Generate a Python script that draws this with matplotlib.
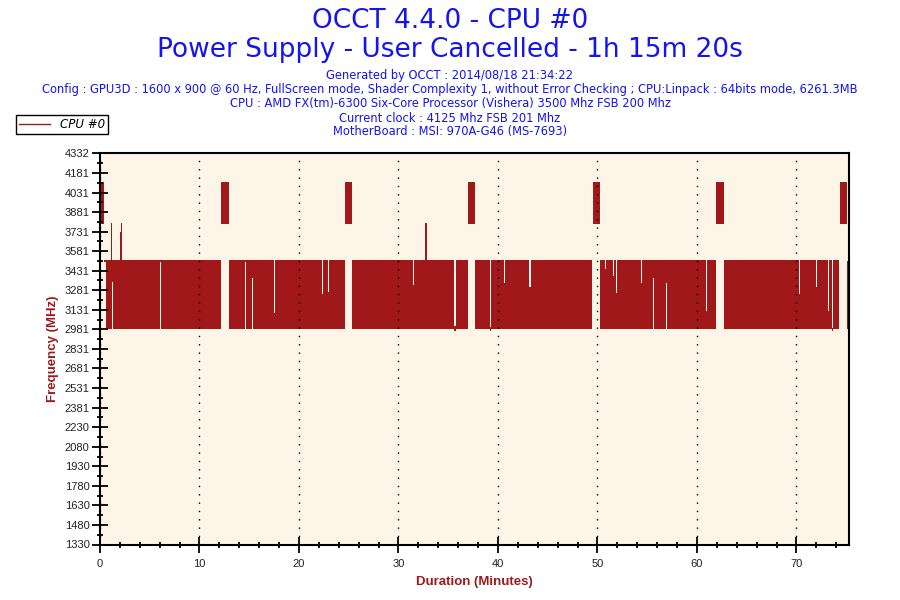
import matplotlib
matplotlib.use("Agg")
import matplotlib.pyplot as plt
from matplotlib.lines import Line2D
import numpy as np

# ---------------- data ----------------
# Piecewise activity segments: start/end in minutes, band low/high in MHz
seg_start = [0.00, 0.45, 0.62, 12.15, 12.96, 24.60, 25.34, 36.99, 37.74, 49.51, 50.29, 61.87, 62.67, 74.36, 75.09]
seg_end   = [0.45, 0.60, 12.12, 12.96, 24.60, 25.34, 36.99, 37.74, 49.46, 50.29, 61.87, 62.67, 74.32, 75.09, 75.25]
seg_low   = [3790, 3495, 2980, 3790, 2980, 3790, 2980, 3790, 2980, 3790, 2980, 3790, 2980, 3790, 2986]
seg_high  = [4108, 3515, 3515, 4108, 3515, 4108, 3515, 4108, 3515, 4108, 3515, 4108, 3515, 4108, 3507]

# Short single-sample excursions (spikes / dips) inside the bands
evt_time = [1.15, 1.25, 2.08, 2.18, 6.08, 14.59, 15.30, 17.51, 22.33, 22.93,
            31.47, 32.77, 35.68, 39.27, 40.67, 43.22,
            50.82, 51.65, 51.92, 54.46, 55.67, 56.91, 60.99,
            70.33, 72.04, 73.24, 73.65]
evt_low  = [2980, 3345, 2980, 2980, 3495, 3495, 3372, 2980, 2980, 2980,
            2980, 2980, 2970, 2970, 2980, 2980,
            2980, 2980, 2980, 2980, 3372, 3339, 2980,
            2980, 2980, 2980, 2970]
evt_high = [3797, 3515, 3729, 3797, 3515, 3515, 3515, 3108, 3250, 3265,
            3324, 3795, 3005, 3000, 3338, 3308,
            3443, 3390, 3262, 3339, 3515, 3515, 3124,
            3251, 3307, 3124, 2995]

y_ticks = [1330, 1480, 1630, 1780, 1930, 2080, 2230, 2381, 2531, 2681, 2831,
           2981, 3131, 3281, 3431, 3581, 3731, 3881, 4031, 4181, 4332]
x_ticks = [0, 10, 20, 30, 40, 50, 60, 70]
x_max = 75.33

title1 = "OCCT 4.4.0 - CPU #0"
title2 = "Power Supply - User Cancelled - 1h 15m 20s"
info_lines = [
    "Generated by OCCT : 2014/08/18 21:34:22",
    "Config : GPU3D : 1600 x 900 @ 60 Hz, FullScreen mode, Shader Complexity 1, without Error Checking ; CPU:Linpack : 64bits mode, 6261.3MB",
    "CPU : AMD FX(tm)-6300 Six-Core Processor (Vishera) 3500 Mhz FSB 200 Mhz",
    "Current clock : 4125 Mhz FSB 201 Mhz",
    "MotherBoard : MSI: 970A-G46 (MS-7693)",
]
series_name = "CPU #0"

# ---------------- style ----------------
RED = "#A0181A"
BG = "#FDF6E8"
BLUE = "#1414F0"
LABEL_RED = "#9B1B1B"
narrow = ["Liberation Sans", "DejaVu Sans"]

fig = plt.figure(figsize=(9, 6), dpi=100)
fig.patch.set_facecolor("white")
ax = fig.add_axes([100 / 900, 1 - 544.5 / 600, 749.5 / 900, (544.5 - 153.3) / 600])
ax.set_facecolor(BG)

evt_w = 0.11
for t0, t1, lo, hi in zip(seg_start, seg_end, seg_low, seg_high):
    xs, los, his = [t0], [lo], [hi]
    for et, el, eh in zip(evt_time, evt_low, evt_high):
        if t0 < et < t1:
            xs += [et - evt_w / 2, et + evt_w / 2]
            los += [el, lo]
            his += [eh, hi]
    xs.append(t1)
    los.append(lo)
    his.append(hi)
    ax.fill_between(xs, los, his, step="post", facecolor=RED, linewidth=0)

ax.set_xlim(0, x_max)
ax.set_ylim(y_ticks[0], y_ticks[-1])
ax.set_xticks(x_ticks)
ax.set_xticks(np.arange(0, x_max, 2), minor=True)
ax.set_yticks(y_ticks)
ax.set_yticks([(a + b) / 2 for a, b in zip(y_ticks[:-1], y_ticks[1:])], minor=True)
ax.set_yticklabels([str(v) for v in y_ticks])

for lab in ax.get_xticklabels() + ax.get_yticklabels():
    lab.set_family(narrow)
    lab.set_fontsize(8)

ax.tick_params(axis="both", which="major", direction="inout", length=11, width=1.3,
               color="black", labelcolor="#222222")
ax.tick_params(axis="both", which="minor", direction="inout", length=5, width=1.3,
               color="black")
ax.tick_params(axis="y", pad=2)
ax.tick_params(axis="x", pad=5)

for s in ax.spines.values():
    s.set_color("black")
    s.set_linewidth(1.5)

ax.grid(axis="x", which="major", color="black", linestyle=(0, (1, 5)), linewidth=1.0)
ax.set_axisbelow(False)

ax.set_ylabel("Frequency (MHz)", color=LABEL_RED, fontweight="bold", fontsize=9.5,
              family=narrow, labelpad=4)
ax.set_xlabel("Duration (Minutes)", color=LABEL_RED, fontweight="bold", fontsize=9.5,
              family=narrow, labelpad=5)

# titles
fig.text(0.5, 1 - 21 / 600, title1, ha="center", va="center", color=BLUE, fontsize=19)
fig.text(0.5, 1 - 50 / 600, title2, ha="center", va="center", color=BLUE, fontsize=19)
for i, line in enumerate(info_lines):
    fig.text(0.5, 1 - (76 + 14 * i) / 600, line, ha="center", va="center",
             color=BLUE, fontsize=8.3)

# legend
proxy = Line2D([], [], color=RED, linewidth=1, label=series_name)
leg = ax.legend(handles=[proxy], loc="upper left",
                bbox_to_anchor=(16 / 900, 1 - 115 / 600), bbox_transform=fig.transFigure,
                frameon=True, fancybox=False, edgecolor="black", framealpha=1,
                borderpad=0.25, handlelength=2.6, handletextpad=0.9,
                borderaxespad=0, prop={"style": "italic", "size": 8.5})
leg.get_frame().set_linewidth(1.0)

fig.savefig("out.png", dpi=100, facecolor="white")
